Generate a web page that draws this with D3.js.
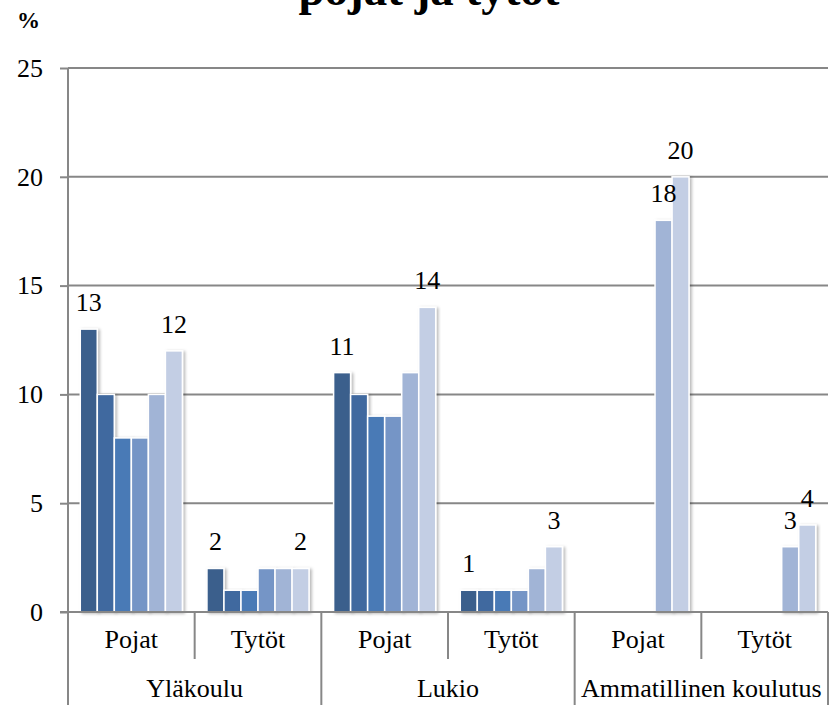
<!DOCTYPE html>
<html>
<head>
<meta charset="utf-8">
<script src="https://cdn.jsdelivr.net/npm/d3@7"></script>
<style>
  body { margin: 0; background: #fff; }
</style>
</head>
<body>
<div id="chart"></div>
<script>
const width = 833;
const height = 705;
const margin = { top: 68, right: 5, bottom: 93, left: 68 };
const innerWidth = width - margin.left - margin.right;
const innerHeight = height - margin.top - margin.bottom;
const serif = "\"Liberation Serif\"";

// top-level categories and their sub-categories
const groups = ["Yläkoulu", "Lukio", "Ammatillinen koulutus"];
const subgroups = ["Pojat", "Tytöt"];
const seriesKeys = ["s1", "s2", "s3", "s4", "s5", "s6"];
const seriesColors = ["#3a5e8c", "#41699f", "#4a7ab6", "#7595c6", "#a1b4d6", "#c3cee4"];

// values per cell (group / subgroup), one per series; null = no bar
const ylakouluPojat = [13, 10, 8, 8, 10, 12];
const ylakouluTytot = [2, 1, 1, 2, 2, 2];
const lukioPojat = [11, 10, 9, 9, 11, 14];
const lukioTytot = [1, 1, 1, 1, 2, 3];
const ammatillinenPojat = [null, null, null, null, 18, 20];
const ammatillinenTytot = [null, null, null, null, 3, 4];

const yTicks = [0, 5, 10, 15, 20, 25];

const cells = [
  { group: groups[0], sub: subgroups[0], values: ylakouluPojat },
  { group: groups[0], sub: subgroups[1], values: ylakouluTytot },
  { group: groups[1], sub: subgroups[0], values: lukioPojat },
  { group: groups[1], sub: subgroups[1], values: lukioTytot },
  { group: groups[2], sub: subgroups[0], values: ammatillinenPojat },
  { group: groups[2], sub: subgroups[1], values: ammatillinenTytot }
];
cells.forEach((c, i) => c.key = i);

const svg = d3.select("#chart")
  .append("svg")
  .attr("width", width)
  .attr("height", height);

const defs = svg.append("defs");
defs.append("filter")
  .attr("id", "shadow")
  .attr("x", "-30%").attr("y", "-10%")
  .attr("width", "160%").attr("height", "130%")
  .append("feDropShadow")
  .attr("dx", 2).attr("dy", 1)
  .attr("stdDeviation", 1.8)
  .attr("flood-color", "#000")
  .attr("flood-opacity", 0.28);

const innerChart = svg.append("g")
  .attr("transform", `translate(${margin.left}, ${margin.top})`);

const x0 = d3.scaleBand()
  .domain(cells.map(d => d.key))
  .range([0, innerWidth]);

const x1 = d3.scaleBand()
  .domain(seriesKeys)
  .range([0, x0.bandwidth()])
  .paddingInner(0.12)
  .paddingOuter(0.78);

const yScale = d3.scaleLinear()
  .domain([0, 25])
  .range([innerHeight, 0]);

const colorScale = d3.scaleOrdinal()
  .domain(seriesKeys)
  .range(seriesColors);

// gridlines
innerChart.append("g")
  .attr("class", "grid")
  .selectAll("line")
  .data(yTicks)
  .join("line")
  .attr("x1", 0)
  .attr("x2", innerWidth)
  .attr("y1", d => yScale(d))
  .attr("y2", d => yScale(d))
  .attr("stroke", "#878787")
  .attr("stroke-width", 2);

// bars
const cellGroups = innerChart.append("g")
  .selectAll("g")
  .data(cells)
  .join("g")
  .attr("transform", d => `translate(${x0(d.key)}, 0)`);

cellGroups.selectAll("rect")
  .data(d => d.values.map((v, i) => ({ key: seriesKeys[i], value: v })).filter(e => e.value != null))
  .join("rect")
  .attr("x", d => x1(d.key) - 1)
  .attr("y", d => yScale(d.value))
  .attr("width", x1.bandwidth() + 2)
  .attr("height", d => innerHeight - yScale(d.value))
  .attr("fill", d => colorScale(d.key))
  .attr("stroke", "#ffffff")
  .attr("stroke-width", 1.5)
  .attr("filter", "url(#shadow)");

// labels on the first and last bar of each cell
cellGroups.selectAll("text")
  .data(d => {
    const present = d.values.map((v, i) => ({ key: seriesKeys[i], value: v })).filter(e => e.value != null);
    return [present[0], present[present.length - 1]];
  })
  .join("text")
  .attr("x", d => x1(d.key) + x1.bandwidth() / 2)
  .attr("y", d => yScale(d.value) - 18)
  .attr("text-anchor", "middle")
  .style("font-family", serif)
  .style("font-size", "26px")
  .attr("fill", "#000")
  .text(d => d.value);

// y axis
const yAxisGroup = innerChart.append("g")
  .call(d3.axisLeft(yScale).tickValues(yTicks).tickSize(8).tickPadding(17));
yAxisGroup.select(".domain").remove();
yAxisGroup.selectAll(".tick line").attr("stroke", "#878787").attr("stroke-width", 2);
yAxisGroup.selectAll(".tick text")
  .style("font-family", serif)
  .style("font-size", "26px")
  .attr("fill", "#000");

// left axis line and bottom axis line
innerChart.append("line")
  .attr("x1", 0).attr("x2", 0)
  .attr("y1", 0).attr("y2", height - margin.top)
  .attr("stroke", "#878787").attr("stroke-width", 2);

innerChart.append("line")
  .attr("x1", -8).attr("x2", innerWidth)
  .attr("y1", innerHeight).attr("y2", innerHeight)
  .attr("stroke", "#878787").attr("stroke-width", 2);

// category axis: separators
const catAxis = innerChart.append("g")
  .attr("transform", `translate(0, ${innerHeight})`);

catAxis.selectAll("line.sep")
  .data(cells.map(d => d.key).concat([cells.length]))
  .join("line")
  .attr("class", "sep")
  .attr("x1", d => d === cells.length ? innerWidth : x0(d))
  .attr("x2", d => d === cells.length ? innerWidth : x0(d))
  .attr("y1", 0)
  .attr("y2", d => (d % 2 === 0) ? height - margin.top - innerHeight : 47)
  .attr("stroke", "#878787")
  .attr("stroke-width", 2);

catAxis.selectAll("text.sub")
  .data(cells)
  .join("text")
  .attr("class", "sub")
  .attr("x", d => x0(d.key) + x0.bandwidth() / 2)
  .attr("y", 36)
  .attr("text-anchor", "middle")
  .style("font-family", serif)
  .style("font-size", "26px")
  .text(d => d.sub);

catAxis.selectAll("text.group")
  .data(groups)
  .join("text")
  .attr("class", "group")
  .attr("x", (d, i) => x0(i * 2) + x0.bandwidth())
  .attr("y", 85)
  .attr("text-anchor", "middle")
  .style("font-family", serif)
  .style("font-size", "26px")
  .text(d => d);

// unit label and clipped title
svg.append("text")
  .attr("x", 17)
  .attr("y", 28)
  .style("font-family", serif)
  .style("font-size", "23px")
  .style("font-weight", "bold")
  .text("%");

svg.append("text")
  .attr("x", 429)
  .attr("y", 5)
  .attr("text-anchor", "middle")
  .style("font-family", serif)
  .style("font-size", "47px")
  .style("font-weight", "bold")
  .text("pojat ja tytöt");
</script>
</body>
</html>
